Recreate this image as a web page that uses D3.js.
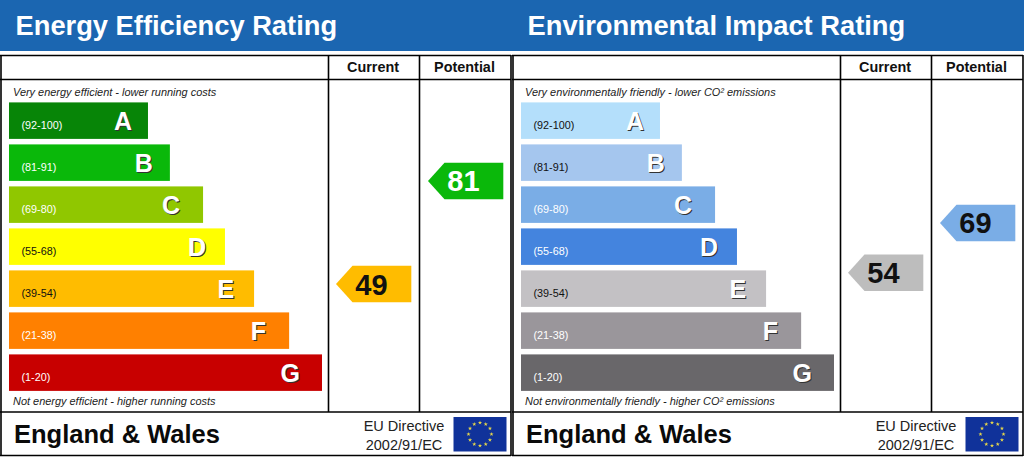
<!DOCTYPE html>
<html><head><meta charset="utf-8">
<style>html,body{margin:0;padding:0;background:#fff}svg{display:block}text{font-family:"Liberation Sans",Arial,sans-serif}</style>
<script src="https://cdn.jsdelivr.net/npm/d3@7"></script>
</head><body><svg id="c" width="1024" height="457"></svg>
<script>
// ---- data ----
const letters = ["A","B","C","D","E","F","G"];
const bandLabels = ["(92-100)","(81-91)","(69-80)","(55-68)","(39-54)","(21-38)","(1-20)"];
const bandTops = [100,91,80,68,54,38,20];
const bandBottoms = [92,81,69,55,39,21,1];
const barLengthPct = [44.4,51.4,62,69,78.3,89.5,100];
const columnHeads = ["Current","Potential"];

const energyTitle = "Energy Efficiency Rating";
const energyTop = "Very energy efficient - lower running costs";
const energyBottom = "Not energy efficient - higher running costs";
const energyColors = ["#078507","#0ab80a","#90c700","#ffff00","#ffbc00","#ff8000","#c80000"];
const energyLabelColors = ["#fff","#fff","#fff","#111","#111","#fff","#fff"];
const energyCurrent = 49, energyPotential = 81;
const energyCurrentColor = "#ffbc00", energyPotentialColor = "#0ab80a";

const envTitle = "Environmental Impact Rating";
const envTop = "Very environmentally friendly - lower CO² emissions";
const envBottom = "Not environmentally friendly - higher CO² emissions";
const envColors = ["#b4dffb","#a5c6ee","#7aade6","#4484de","#c3c1c4","#9a969b","#69676a"];
const envLabelColors = ["#111","#111","#fff","#fff","#111","#fff","#fff"];
const envCurrent = 54, envPotential = 69;
const envCurrentColor = "#bdbdbd", envPotentialColor = "#7aade6";

const footerName = "England & Wales";
const directive = ["EU Directive","2002/91/EC"];
const flagStars = d3.range(12);

// ---- layout ----
const letterInset = [16,17,23,19,20,23,22];

// ---- scales ----
const barY = d3.scaleBand().domain(letters).range([102.4,390.9]).paddingInner(5.5/42).paddingOuter(0);
const barW = d3.scaleLinear().domain([0,100]).range([0,313]);
// each band of the rating scale is its own linear piece
const ratingY = v => {
  const i = bandBottoms.findIndex(b => v >= b);
  const top = barY(letters[i]);
  return d3.scaleLinear().domain([bandTops[i]+1, bandBottoms[i]]).range([top, top + barY.bandwidth()])(v);
};
const svg = d3.select("#c");
svg.append("rect").attr("width",1024).attr("height",457).attr("fill","#fff");

function panel(x0,title,top,bottom,colors,labelColors,cur,pot,curC,potC,potTxt){
  const g = svg.append("g").attr("transform",`translate(${x0},0)`);
  g.append("rect").attr("x",0).attr("y",0).attr("width",512).attr("height",51).attr("fill","#1b66b1");
  g.append("text").attr("x",15.5).attr("y",35).attr("fill","#fff").attr("font-weight","bold")
    .attr("font-size",27.3).text(title);

  const line=(x1,y1,x2,y2,w)=>g.append("line").attr("x1",x1).attr("y1",y1).attr("x2",x2).attr("y2",y2)
    .attr("stroke","#000").attr("stroke-width",w);
  line(0,55.5,511,55.5,1.6);
  line(1,55,1,456,1.6);
  line(511,55,511,456,1.6);
  line(0,79.5,511,79.5,1.6);
  line(328.5,55,328.5,412,1.6);
  line(419.5,55,419.5,412,1.6);
  line(0,412,511,412,1.6);
  line(0,455.5,511,455.5,1.6);

  columnHeads.forEach((h,i)=>g.append("text").attr("x",[373,464.5][i]).attr("y",72)
    .attr("text-anchor","middle").attr("font-weight","bold").attr("font-size",14.4).attr("fill","#111").text(h));

  g.append("text").attr("x",13).attr("y",96).attr("font-style","italic").attr("font-size",10.95).attr("fill","#222").text(top);
  g.append("text").attr("x",13).attr("y",405).attr("font-style","italic").attr("font-size",10.95).attr("fill","#222").text(bottom);

  const rows = g.selectAll("g.row").data(letters).join("g").attr("class","row");
  rows.append("rect").attr("x",9).attr("y",d=>barY(d)).attr("height",barY.bandwidth())
    .attr("width",(d,i)=>barW(barLengthPct[i])).attr("fill",(d,i)=>colors[i]);
  rows.append("text").attr("x",21.5).attr("y",d=>barY(d)+26.5).attr("font-size",10.8)
    .attr("fill",(d,i)=>labelColors[i]).text((d,i)=>bandLabels[i]);
  const lx=(d,i)=>9+barW(barLengthPct[i])-letterInset[i];
  rows.append("text").attr("x",(d,i)=>lx(d,i)+1).attr("y",d=>barY(d)+29).attr("text-anchor","end")
    .attr("font-weight","bold").attr("font-size",25).attr("fill","#333").text(d=>d);
  rows.append("text").attr("x",lx).attr("y",d=>barY(d)+28).attr("text-anchor","end")
    .attr("font-weight","bold").attr("font-size",25).attr("fill","#fff").text(d=>d);

  const arrow=(v,tip,color,txt)=>{
    const yc=ratingY(v), h=barY.bandwidth()/2, right=tip+75.3, neck=tip+16.5;
    g.append("path").attr("d",d3.line()([[tip,yc],[neck,yc-h],[right,yc-h],[right,yc+h],[neck,yc+h]])+"Z").attr("fill",color);
    g.append("text").attr("x",tip+35.5).attr("y",yc+10.5).attr("text-anchor","middle")
      .attr("font-weight","bold").attr("font-size",29).attr("fill",txt).text(v);
  };
  arrow(cur,336,curC,"#111");
  arrow(pot,428,potC,potTxt);

  g.append("text").attr("x",14).attr("y",443).attr("font-weight","bold").attr("font-size",25.5).attr("fill","#0a0a0a").text(footerName);
  directive.forEach((t,i)=>g.append("text").attr("x",404).attr("y",431+i*18.5).attr("text-anchor","middle")
    .attr("font-size",14.5).attr("fill","#222").text(t));
  g.append("rect").attr("x",453.5).attr("y",417).attr("width",53).attr("height",34.5).attr("fill","#10329a");
  const ang=d3.scaleLinear().domain([0,12]).range([0,2*Math.PI]);
  g.selectAll("path.star").data(flagStars).join("path").attr("class","star")
    .attr("d",d3.symbol(d3.symbolStar,5.5))
    .attr("transform",d=>`translate(${480+11.5*Math.sin(ang(d))},${434.2-11.5*Math.cos(ang(d))})`)
    .attr("fill","#e8d84a");
}
panel(0,energyTitle,energyTop,energyBottom,energyColors,energyLabelColors,energyCurrent,energyPotential,energyCurrentColor,energyPotentialColor,"#fff");
panel(512,envTitle,envTop,envBottom,envColors,envLabelColors,envCurrent,envPotential,envCurrentColor,envPotentialColor,"#111");
</script></body></html>
